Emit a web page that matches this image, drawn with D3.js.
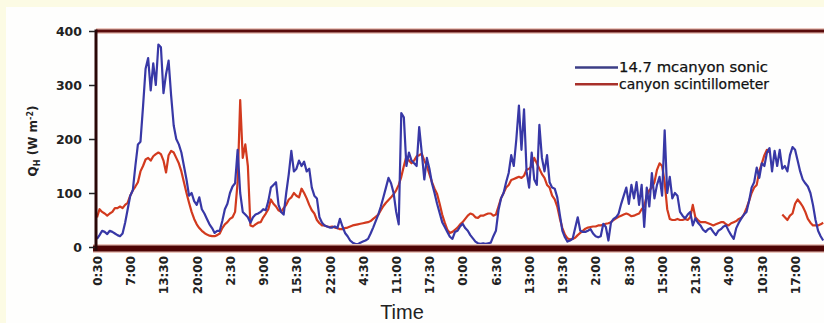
<!DOCTYPE html>
<html>
<head>
<meta charset="utf-8">
<script src="https://cdn.jsdelivr.net/npm/d3@7"></script>
<style>
  html, body { margin: 0; padding: 0; background: #fcfbe4; }
  svg { display: block; }
</style>
</head>
<body>
<svg id="chart" width="824" height="323"></svg>
<script>
// Sensible heat flux, half-hourly samples starting at 0:30
const yTicks = [0, 100, 200, 300, 400];
const timeLabels = ["0:30", "7:00", "13:30", "20:00", "2:30", "9:00", "15:30", "22:00",
  "4:30", "11:00", "17:30", "0:00", "6:30", "13:00", "19:30", "2:00", "8:30", "15:00",
  "21:30", "4:00", "10:30", "17:00"];
const labelStep = 13; // half-hour steps between labels (6.5 h)

const seriesNames = ["14.7 mcanyon sonic", "canyon scintillometer"];

// 14.7 m canyon sonic anemometer (W m-2)
const sonic = [
  15, 22, 30, 28, 24, 30, 28, 25, 22, 20,
  25, 45, 70, 95, 105, 150, 190, 195, 260, 330,
  350, 290, 340, 300, 375, 370, 285, 320, 345, 280,
  225, 200, 190, 175, 150, 125, 95, 100, 85, 78,
  92, 70, 62, 52, 42, 35, 26, 30, 30, 48,
  70, 80, 100, 112, 118, 180, 100, 65, 60, 55,
  45, 55, 60, 62, 65, 70, 68, 85, 110, 115,
  120, 78, 65, 60, 100, 135, 178, 140, 145, 160,
  150, 158, 140, 145, 110, 95, 90, 55, 45, 40,
  38, 36, 36, 38, 35, 52, 38, 26, 20, 12,
  8, 6, 5, 8, 10, 12, 15, 25, 36, 48,
  60, 75, 92, 110, 128, 118, 100, 65, 42, 248,
  240, 150, 175, 160, 155, 150, 222, 175, 125, 165,
  145, 118, 100, 80, 63, 46, 37, 28, 19, 15,
  28, 30, 38, 43, 35, 30, 22, 16, 10, 7,
  6, 7, 6, 7, 8, 20, 30, 68, 90, 100,
  120, 137, 170, 150, 200, 262, 180, 255, 140, 110,
  175, 125, 115, 226, 165, 140, 170, 120, 110, 108,
  92, 60, 30, 18, 10, 12, 15, 35, 55, 30,
  28, 28, 30, 33, 25, 20, 18, 20, 43, 37,
  12, 45, 52, 55, 62, 80, 95, 110, 80, 115,
  90, 120, 78, 115, 37, 110, 75, 137, 90, 115,
  130, 95, 216, 100, 130, 90, 100, 95, 65, 58,
  53, 60, 65, 40, 53, 45, 40, 32, 28, 33,
  35, 28, 22, 30, 33, 38, 40, 30, 22, 15,
  35, 45, 53, 60, 65, 85, 110, 120, 147, 128,
  155, 150, 175, 183, 140, 178, 150, 180, 145, 150,
  140, 170, 185, 180, 160, 140, 125, 118, 112, 100,
  78, 50, 30, 20, 12
];

// Canyon scintillometer (W m-2); null = no measurement
const scint = [
  55, 70, 65, 62, 58, 62, 65, 72, 72, 75,
  72, 78, 82, 95, 105, 112, 120, 140, 150, 162,
  165, 160, 168, 172, 175, 172, 160, 138, 170, 178,
  175, 165, 155, 140, 120, 100, 82, 65, 52, 42,
  35, 30, 26, 23, 21, 20, 20, 22, 25, 35,
  42, 46, 52, 55, 65, 120, 272, 165, 190, 150,
  40, 38, 42, 45, 46, 55, 62, 70, 88, 80,
  75, 68, 65, 72, 78, 88, 92, 100, 95, 92,
  108, 100, 90, 78, 68, 62, 50, 44, 40, 40,
  38, 37, 38, 36, 35, 33, 33, 35, 36, 38,
  40, 41, 42, 43, 44, 45, 46, 48, 52, 56,
  60, 68, 76, 82, 87, 92, 98, 105, 115, 130,
  150, 168, 160, 155, 160, 168, 170, 173, 160, 150,
  135, 120, 108, 98, 80, 60, 45, 32, 26, 28,
  32, 36, 42, 46, 52, 58, 62, 60, 55, 54,
  58, 58, 60, 62, 62, 58, 60, 75, 90, 100,
  110, 115, 124, 126, 128, 130, 128, 132, 143, 145,
  150, 165, 155, 145, 135, 128, 115, 110, 95, 88,
  75, 53, 35, 23, 16, 14, 15, 17, 22, 26,
  30, 34, 36, 37, 38, 38, 40, 40, 41, 43,
  44, 46, 50, 53, 56, 58, 60, 62, 60, 57,
  58, 60, 62, 70, 75, 95, 105, 110, 120, 143,
  155, 150, 120, 70, 52, 50, 50, 52, 50, 50,
  52, 50, 55, 78, 55, 50, 46, 46, 46, 44,
  42, 40, 42, 44, 46, 46, 42, 40, 44, 46,
  48, 52, 54, 60, 72, 85, 100, 110, 115, 140,
  155, 170, 180, 175, null, null, null, null, 60, 55,
  50, 58, 62, 80, 88, 82, 75, 65, 52, 45,
  40, 40, 40, 42, 45
];

const W = 824, H = 323;
const svg = d3.select("#chart");
const tickFont = "'DejaVu Sans', Verdana, sans-serif";

// inner panel
svg.append("rect").attr("x", 6).attr("y", 7).attr("width", W - 6).attr("height", H - 7)
  .attr("fill", "#fefefd");

const x = d3.scaleLinear().domain([0, sonic.length - 1]).range([97, 823.2]);
const y = d3.scaleLinear().domain([0, 400]).range([247, 31]);

// plot frame: top border
svg.append("line").attr("x1", 96).attr("x2", W).attr("y1", y(400)).attr("y2", y(400))
  .attr("stroke", "#ecc8bf").attr("stroke-width", 6);
svg.append("line").attr("x1", 96).attr("x2", W).attr("y1", y(400)).attr("y2", y(400))
  .attr("stroke", "#5a0c0c").attr("stroke-width", 3);

// series
const line = d3.line()
  .defined(d => d != null)
  .x((d, i) => x(i))
  .y(d => y(d));

svg.append("path").datum(scint)
  .attr("fill", "none").attr("stroke", "#d23a1e").attr("stroke-width", 2.2)
  .attr("stroke-linejoin", "round").attr("d", line);
svg.append("path").datum(sonic)
  .attr("fill", "none").attr("stroke", "#3838a6").attr("stroke-width", 2.2)
  .attr("stroke-linejoin", "round").attr("d", line);

// bottom (x) axis bar
svg.append("line").attr("x1", 93).attr("x2", W).attr("y1", 248.5).attr("y2", 248.5)
  .attr("stroke", "#e9c4bb").attr("stroke-width", 9);
svg.append("line").attr("x1", 93).attr("x2", W).attr("y1", 248.5).attr("y2", 248.5)
  .attr("stroke", "#4e0404").attr("stroke-width", 6);

// left axis line
svg.append("line").attr("x1", 96).attr("x2", 96).attr("y1", y(400) - 1.5).attr("y2", 251)
  .attr("stroke", "#2a0707").attr("stroke-width", 3);

// y axis ticks and labels
const yAxis = svg.append("g").attr("transform", "translate(95,0)")
  .call(d3.axisLeft(y).tickValues(yTicks).tickSize(6).tickPadding(7));
yAxis.select(".domain").remove();
yAxis.selectAll(".tick line").attr("stroke", "#222").attr("stroke-width", 1.5);
yAxis.selectAll(".tick text")
  .attr("fill", "#222").style("font-family", tickFont)
  .style("font-size", "12.5px").style("font-weight", "bold");

// x axis labels (rotated)
const xAxis = svg.append("g").attr("transform", "translate(0,256)")
  .call(d3.axisBottom(x)
    .tickValues(timeLabels.map((t, k) => k * labelStep))
    .tickFormat((d, k) => timeLabels[k])
    .tickSize(0));
xAxis.select(".domain").remove();
xAxis.selectAll(".tick text")
  .attr("x", 0).attr("y", 0).attr("dy", "0.36em")
  .attr("transform", "rotate(-90)")
  .style("text-anchor", "end")
  .attr("fill", "#222").style("font-family", tickFont)
  .style("font-size", "12px").style("font-weight", "bold");

// axis titles
svg.append("text").attr("x", 402).attr("y", 319)
  .attr("text-anchor", "middle")
  .style("font-family", "'Liberation Sans', Arial, sans-serif").style("font-size", "20px")
  .attr("fill", "#222").text("Time");

const yTitle = svg.append("text")
  .attr("transform", "translate(37,141) rotate(-90)")
  .attr("text-anchor", "middle")
  .style("font-family", tickFont).style("font-size", "12px").style("font-weight", "bold")
  .attr("fill", "#222");
yTitle.append("tspan").text("Q");
yTitle.append("tspan").attr("dy", 3).style("font-size", "8px").text("H");
yTitle.append("tspan").attr("dy", -3).text(" (W m");
yTitle.append("tspan").attr("dy", -4).style("font-size", "8px").text("-2");
yTitle.append("tspan").attr("dy", 4).text(")");

// legend
const legend = svg.append("g");
const legendColors = ["#3c3e86", "#a8302a"];
const legendWidths = [149, 150];
seriesNames.forEach((name, k) => {
  const base = 72 + k * 16.8;
  legend.append("line").attr("x1", 575).attr("x2", 618)
    .attr("y1", base - 4.5).attr("y2", base - 4.5)
    .attr("stroke", legendColors[k]).attr("stroke-width", 2.5);
  legend.append("text").attr("x", 619).attr("y", base)
    .attr("textLength", legendWidths[k]).attr("lengthAdjust", "spacingAndGlyphs")
    .style("font-family", tickFont).style("font-size", "13.5px")
    .attr("fill", "#111").attr("stroke", "#111").attr("stroke-width", 0.25)
    .text(name);
});
</script>
</body>
</html>
